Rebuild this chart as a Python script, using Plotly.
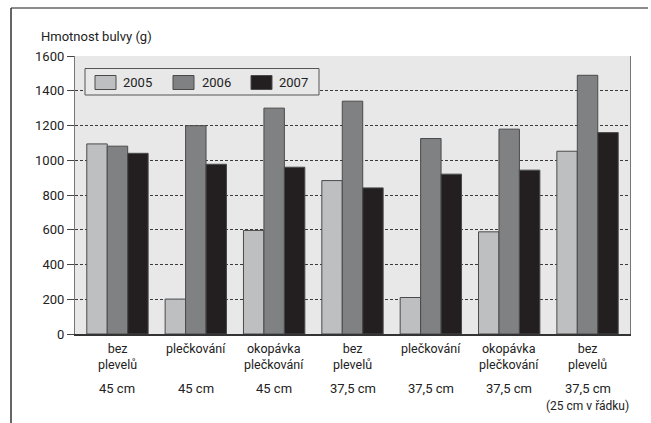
import plotly.graph_objects as go

# Tuber weight by treatment and row spacing, three seasons
years = ["2005", "2006", "2007"]
colors = ["#bebfc1", "#808183", "#231f20"]

treatment_lines = [["bez", "plevelů"], ["plečkování"], ["okopávka", "plečkování"],
                   ["bez", "plevelů"], ["plečkování"], ["okopávka", "plečkování"],
                   ["bez", "plevelů"]]
row_spacing = ["45 cm", "45 cm", "45 cm", "37,5 cm", "37,5 cm", "37,5 cm", "37,5 cm"]
notes = ["", "", "", "", "", "", "(25 cm v řádku)"]

v2005 = [1094, 201, 596, 883, 210, 588, 1052]
v2006 = [1081, 1199, 1300, 1340, 1125, 1179, 1489]
v2007 = [1040, 977, 960, 841, 920, 943, 1159]
series = [v2005, v2006, v2007]

y_ticks = [0, 200, 400, 600, 800, 1000, 1200, 1400, 1600]

categories = [" ".join(t) + " " + s + (" " + n if n else "")
              for t, s, n in zip(treatment_lines, row_spacing, notes)]

FONT = "Roboto, Liberation Sans, Arial, sans-serif"
W, H = 651, 423
ML, MR, MT, MB = 75, 21, 56, 89
PW, PH = W - ML - MR, H - MT - MB


def px_x(x):
    return (x - ML) / PW


def px_y(y):
    return (H - MB - y) / PH


fig = go.Figure()
for name, vals, col in zip(years, series, colors):
    fig.add_trace(go.Bar(
        name=name, x=categories, y=vals,
        marker=dict(color=col, line=dict(color="#4a4a4a", width=1)),
        showlegend=False,
    ))

shapes = []
annotations = []

# outer frame: top and left rules
shapes.append(dict(type="line", xref="paper", yref="paper",
                   x0=px_x(11), x1=px_x(648), y0=px_y(8), y1=px_y(8),
                   line=dict(color="#8c8c8c", width=2), layer="above"))
shapes.append(dict(type="line", xref="paper", yref="paper",
                   x0=px_x(11), x1=px_x(11), y0=px_y(8), y1=px_y(423),
                   line=dict(color="#333333", width=1.5), layer="above"))

# legend box
shapes.append(dict(type="rect", xref="paper", yref="paper",
                   x0=px_x(85), x1=px_x(319), y0=px_y(68.5), y1=px_y(95),
                   fillcolor="#e8e8e8", line=dict(color="#555555", width=1),
                   layer="above"))
sw_x = [95, 173, 251]
tx_x = [121, 200, 277]
for yr, col, sx, tx in zip(years, colors, sw_x, tx_x):
    shapes.append(dict(type="rect", xref="paper", yref="paper",
                       x0=px_x(sx), x1=px_x(sx + 21), y0=px_y(75.5), y1=px_y(89.5),
                       fillcolor=col, line=dict(color="#4a4a4a", width=1),
                       layer="above"))
    annotations.append(dict(text=yr, xref="paper", yref="paper",
                            x=px_x(tx), y=px_y(82.5), xanchor="left", yanchor="middle",
                            showarrow=False, font=dict(family=FONT, size=13, color="#222")))

# axis title
annotations.append(dict(text="Hmotnost bulvy (g)", xref="paper", yref="paper",
                        x=px_x(39), y=px_y(37), xanchor="left", yanchor="middle",
                        showarrow=False, font=dict(family=FONT, size=13, color="#222")))

# category labels under the bars
for cat, lines, sp, note in zip(categories, treatment_lines, row_spacing, notes):
    annotations.append(dict(text="<br>".join(lines), xref="x", yref="paper", x=cat,
                            y=px_y(339), yanchor="top", showarrow=False,
                            font=dict(family=FONT, size=12.5, color="#222")))
    annotations.append(dict(text=sp, xref="x", yref="paper", x=cat,
                            y=px_y(388), yanchor="middle", showarrow=False,
                            font=dict(family=FONT, size=13, color="#222")))
    if note:
        annotations.append(dict(text=note, xref="x", yref="paper", x=cat,
                                y=px_y(406), yanchor="middle", showarrow=False,
                                font=dict(family=FONT, size=12, color="#222")))

fig.update_layout(
    width=W, height=H,
    margin=dict(l=ML, r=MR, t=MT, b=MB, pad=0),
    paper_bgcolor="white",
    plot_bgcolor="#e8e8e8",
    barmode="group",
    bargap=0.217,
    bargroupgap=0,
    shapes=shapes,
    annotations=annotations,
    font=dict(family=FONT, size=13, color="#222"),
    xaxis=dict(
        type="category",
        range=[-0.542, 6.542],
        showticklabels=False,
        ticks="",
        showgrid=False,
        showline=True, linecolor="#333333", linewidth=1.5,
        zeroline=False,
    ),
    yaxis=dict(
        range=[0, 1600],
        tickvals=y_ticks,
        ticktext=[str(v) for v in y_ticks],
        ticks="outside", ticklen=7, tickcolor="#444444", tickwidth=1,
        tickfont=dict(family=FONT, size=13, color="#222"),
        showgrid=True, gridcolor="#3a3a3a", gridwidth=1, griddash="3px,2px",
        showline=True, linecolor="#777777", linewidth=1.2, mirror=True,
        zeroline=False,
    ),
)

fig.write_html("out.html")
